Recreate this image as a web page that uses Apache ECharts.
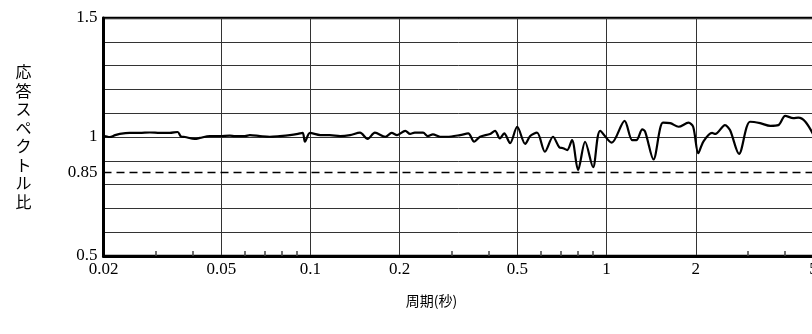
<!DOCTYPE html>
<html>
<head>
<meta charset="utf-8">
<script src="https://cdn.jsdelivr.net/npm/echarts@6/dist/echarts.min.js"></script>
<style>
html,body{margin:0;padding:0;background:#fff;}
#chart{width:812px;height:334px;}
</style>
</head>
<body>
<div id="chart"></div>
<script>
// Period (s)
const periods = [0.02,0.0202,0.021,0.0219,0.0227,0.0245,0.0265,0.0287,0.031,0.0335,0.0356,0.0365,0.0377,0.0407,0.0423,0.0457,0.0494,0.0534,0.0556,0.0601,0.0624,0.0675,0.0729,0.0788,0.0852,0.0907,0.0941,0.0958,0.0996,0.108,0.116,0.126,0.136,0.147,0.156,0.165,0.179,0.188,0.196,0.209,0.217,0.225,0.240,0.249,0.259,0.274,0.289,0.320,0.341,0.357,0.374,0.404,0.420,0.436,0.451,0.472,0.499,0.531,0.552,0.582,0.619,0.659,0.692,0.713,0.736,0.764,0.801,0.846,0.900,0.951,1.04,1.15,1.22,1.26,1.32,1.35,1.44,1.55,1.64,1.75,1.89,1.96,2.04,2.12,2.27,2.33,2.51,2.61,2.80,3.05,3.30,3.57,3.80,4.01,4.27,4.44,4.69,5.0];
// Response spectrum ratio
const ratios = [0.987,1.004,1.000,1.008,1.013,1.017,1.017,1.019,1.017,1.017,1.021,1.003,1.000,0.992,0.996,1.004,1.004,1.006,1.004,1.004,1.008,1.004,1.001,1.004,1.008,1.013,1.017,0.980,1.017,1.008,1.008,1.004,1.008,1.018,0.992,1.018,1.001,1.017,1.008,1.026,1.013,1.018,1.018,1.004,1.011,1.001,1.001,1.008,1.015,0.980,1.001,1.013,1.026,0.994,1.015,0.974,1.043,0.971,1.004,1.018,0.938,1.001,0.957,0.953,0.945,0.987,0.861,0.980,0.873,1.026,0.976,1.068,0.987,0.987,1.032,1.022,0.906,1.060,1.058,1.043,1.060,1.043,0.932,0.980,1.017,1.013,1.050,1.029,0.929,1.064,1.058,1.047,1.050,1.089,1.079,1.081,1.064,1.008];
const xTickLabels = [0.02,0.05,0.1,0.2,0.5,1,2,5];
const xMinorTicks = [0.03,0.04,0.06,0.07,0.08,0.09,0.3,0.4,0.6,0.7,0.8,0.9,3,4];
const yTickLabels = [0.5,0.85,1,1.5];
const refLevel = 0.85;
const xTitle = '周期(秒)';
const yTitle = '応答スペクトル比';

const lg = v => Math.log10(v);
const fmtPeriod = v => {
  const p = Math.pow(10, v);
  return String(parseFloat(p.toPrecision(3)));
};
const serif = '"Liberation Serif","Times New Roman",serif';
const cjk = '"Noto Sans CJK JP",sans-serif';

const chart = echarts.init(document.getElementById('chart'));
chart.setOption({
  animation: false,
  backgroundColor: '#fff',
  grid: {left: 103.5, right: -1.6, top: 18, bottom: 78, outerBoundsMode: 'none', containLabel: false,
    show: true, borderColor: '#000', borderWidth: 2.5, backgroundColor: 'transparent'},
  xAxis: [{
    type: 'value', position: 'bottom',
    min: lg(0.02), max: lg(5),
    name: xTitle, nameLocation: 'middle', nameGap: 38,
    nameTextStyle: {fontFamily: cjk, fontSize: 14, color: '#000', padding: [0, 54, 0, 0]},
    axisLine: {show: true, onZero: false, lineStyle: {color: '#000', width: 3}},
    axisTick: {show: true, inside: true, length: 5, customValues: xMinorTicks.map(lg), lineStyle: {color: '#444', width: 1.5}},
    axisLabel: {customValues: xTickLabels.map(lg), formatter: fmtPeriod, fontFamily: serif, fontSize: 17, color: '#000', margin: 5},
    splitLine: {show: false}
  }, {
    type: 'value', position: 'top',
    min: lg(0.02), max: lg(5),
    axisLine: {show: false, onZero: false},
    axisTick: {show: false, customValues: xTickLabels.map(lg)},
    axisLabel: {show: false},
    splitLine: {show: true, lineStyle: {color: '#333', width: 1}}
  }],
  yAxis: {
    type: 'value', min: 0.5, max: 1.5, interval: 0.1,
    name: yTitle.split('').join('\n'), nameLocation: 'middle', nameGap: 72, nameRotate: 0,
    nameTextStyle: {fontFamily: cjk, fontSize: 16, lineHeight: 18.5, color: '#000'},
    axisLine: {show: true, onZero: false, lineStyle: {color: '#000', width: 3}},
    axisTick: {show: false},
    axisLabel: {customValues: yTickLabels, fontFamily: serif, fontSize: 17, color: '#000', margin: 6},
    splitLine: {show: true, lineStyle: {color: '#333', width: 1}}
  },
  series: [{
    type: 'line', xAxisIndex: 0, yAxisIndex: 0,
    data: periods.map((p, i) => [lg(p), ratios[i]]),
    showSymbol: false, smooth: 0.3,
    lineStyle: {color: '#000', width: 2.2},
    markLine: {
      silent: true, symbol: ['none', 'none'], label: {show: false},
      lineStyle: {color: '#000', type: [8, 5], width: 1.3},
      data: [{yAxis: refLevel}]
    }
  }]
});
</script>
</body>
</html>
